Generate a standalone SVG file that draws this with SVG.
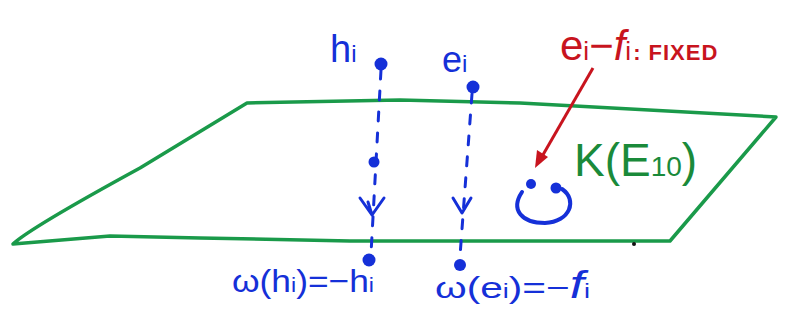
<svg xmlns="http://www.w3.org/2000/svg" width="788" height="329" viewBox="0 0 788 329">
<style>
.plane{fill:none;stroke:#1a9a4a;stroke-width:3.5;stroke-linejoin:round;stroke-linecap:round}
.dash{fill:none;stroke:#1530d8;stroke-width:3;stroke-dasharray:9 12;stroke-linecap:round}
.chev{fill:none;stroke:#1530d8;stroke-width:3;stroke-linecap:round;stroke-linejoin:round}
.dot{fill:#1530d8}
.blue{font-family:"Liberation Sans",Arial,sans-serif;fill:#1530d8}
.red{font-family:"Liberation Sans",Arial,sans-serif;fill:#c8141e}
.green{font-family:"Liberation Sans",Arial,sans-serif;fill:#1a8a3a}
</style>
<rect width="788" height="329" fill="#ffffff"/>
<g id="plane">
<path class="plane" d="M247,103 L400,100 L520,103 L776,117 L670,241 L350,241 L200,238 L110,236 L13,244 Q30,228 140,168 Z"/>
<circle cx="634" cy="244" r="2" fill="#111"/>
</g>
<g id="connectors">
<line class="dash" x1="381" y1="70" x2="371" y2="254"/>
<line class="dash" x1="472" y1="94" x2="460" y2="256"/>
<path class="chev" d="M360,198 L372,215 L384,198 M368,202 L372,215"/>
<path class="chev" d="M453,198 L462,213 L471,198"/>
<path d="M593,68 L540,160" stroke="#c8141e" stroke-width="3" fill="none"/>
<polygon points="535,168 537,150 548,157" fill="#c8141e"/>
</g>
<g id="node-hi">
<text class="blue" x="330" y="62" font-size="38">h<tspan font-size="24">i</tspan></text>
<circle class="dot" cx="381" cy="64" r="6.5"/>
<circle class="dot" cx="374" cy="162" r="5.5"/>
</g>
<g id="node-ei">
<text class="blue" x="442" y="72" font-size="36">e<tspan font-size="24">i</tspan></text>
<circle class="dot" cx="473" cy="87" r="6.5"/>
</g>
<g id="node-omega-hi">
<circle class="dot" cx="369" cy="260" r="6.5"/>
<text class="blue" x="232" y="292" font-size="32" textLength="142" lengthAdjust="spacingAndGlyphs">ω(h<tspan font-size="21">i</tspan>)=−h<tspan font-size="21">i</tspan></text>
</g>
<g id="node-omega-ei">
<circle class="dot" cx="460" cy="265" r="6"/>
<text class="blue" x="435" y="298" font-size="30" textLength="155" lengthAdjust="spacingAndGlyphs">ω(e<tspan font-size="20">i</tspan>)=−<tspan font-style="italic" font-size="38">f</tspan><tspan font-size="20">i</tspan></text>
</g>
<g id="node-fixed">
<text class="red" x="560" y="60" font-size="42">e<tspan font-size="26">i</tspan>−<tspan font-style="italic">f</tspan><tspan font-size="26">i</tspan><tspan font-size="22" font-weight="bold" dx="2" letter-spacing="1">: FIXED</tspan></text>
</g>
<g id="node-K">
<text class="green" x="574" y="176" font-size="46">K(E<tspan font-size="28">10</tspan>)</text>
<circle class="dot" cx="531" cy="184" r="5"/>
<circle class="dot" cx="556" cy="188" r="5.5"/>
<path d="M522,192 C510,210 522,223 545,223 C570,222 578,200 562,189" fill="none" stroke="#1530d8" stroke-width="4" stroke-linecap="round"/>
</g>
</svg>
